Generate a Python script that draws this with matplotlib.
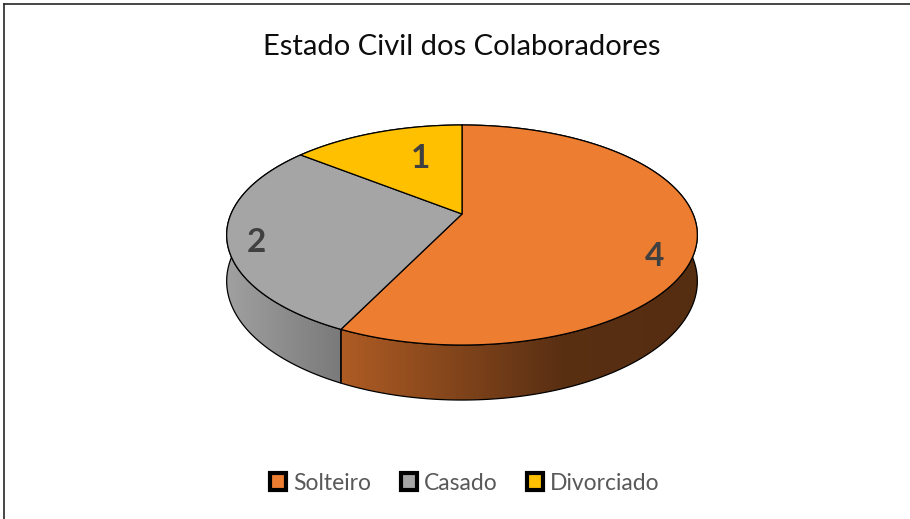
import numpy as np
import matplotlib.pyplot as plt
from matplotlib.patches import Polygon, Patch
from matplotlib.lines import Line2D

# data
categorias = ['Solteiro', 'Casado', 'Divorciado']
valores = [4, 2, 1]
cores = ['#ED7D31', '#A5A5A5', '#FFC000']
titulo = 'Estado Civil dos Colaboradores'

plt.rcParams['font.family'] = ['Lato', 'DejaVu Sans']

fig = plt.figure(figsize=(9.10, 5.19), dpi=100)
ax = fig.add_axes([0, 0, 1, 1])
ax.set_xlim(0, 910)
ax.set_ylim(519, 0)
ax.axis('off')

# perspective pie geometry (pixel space)
cx, cy = 462, 214
R, ry, k = 231, 106, 0.191
depth = 44.5


def proj(theta, d=0.0):
    X, Y = np.sin(theta), np.cos(theta)
    s = 1.0 / (1.0 + k * Y)
    return cx + R * X * s, cy - ry * Y * s + d * s


def shade(x):
    return np.interp(x, [227, 345, 560, 700], [0.97, 0.73, 0.38, 0.36])


total = sum(valores)
bordas = np.concatenate([[0], np.cumsum(valores) / total * 2 * np.pi])

# sides first
xs_img = np.linspace(215, 710, 500)
for i, cor in enumerate(cores):
    t = np.linspace(bordas[i], bordas[i + 1], 300)
    xt, yt = proj(t)
    xb, yb = proj(t, depth)
    pts = np.column_stack([np.concatenate([xt, xb[::-1]]),
                           np.concatenate([yt, yb[::-1]])])
    base = np.array(plt.matplotlib.colors.to_rgb(cor))
    img = (shade(xs_img)[:, None] * base[None, :])[None, :, :]
    im = ax.imshow(img, extent=(215, 710, 420, 100), aspect='auto',
                   zorder=1, interpolation='bilinear')
    poly = Polygon(pts, closed=True, facecolor='none', edgecolor='black',
                   lw=0.9, zorder=2)
    ax.add_patch(poly)
    im.set_clip_path(poly)

# tops
for i, cor in enumerate(cores):
    t = np.linspace(bordas[i], bordas[i + 1], 300)
    xt, yt = proj(t)
    pts = np.column_stack([np.concatenate([[cx], xt]),
                           np.concatenate([[cy], yt])])
    ax.add_patch(Polygon(pts, closed=True, facecolor=cor, edgecolor='black',
                         lw=0.9, zorder=3))

# data labels
pos_rotulos = [(655, 256), (256, 243), (421, 158)]
for v, (x, y) in zip(valores, pos_rotulos):
    ax.text(x, y, str(v), fontsize=24, fontweight='bold', color='#404040',
            ha='center', va='center', zorder=4)

ax.text(462, 47, titulo, fontsize=21, color='#0d0d0d',
        ha='center', va='center')

handles = [Patch(facecolor=c, edgecolor='black', linewidth=3) for c in cores]
fig.legend(handles, categorias, loc='center', ncol=3, frameon=False,
           bbox_to_anchor=(465 / 910, 1 - 483 / 519), fontsize=16.5,
           labelcolor='#595959', handlelength=0.7, handleheight=0.7,
           handletextpad=0.3, columnspacing=1.3)

# chart frame (only top and left edges visible)
ax.add_line(Line2D([4, 4], [519, 4], color='#262626', lw=1.2))
ax.add_line(Line2D([4, 910], [4, 4], color='#262626', lw=1.2))

fig.savefig('out.png', dpi=100)
